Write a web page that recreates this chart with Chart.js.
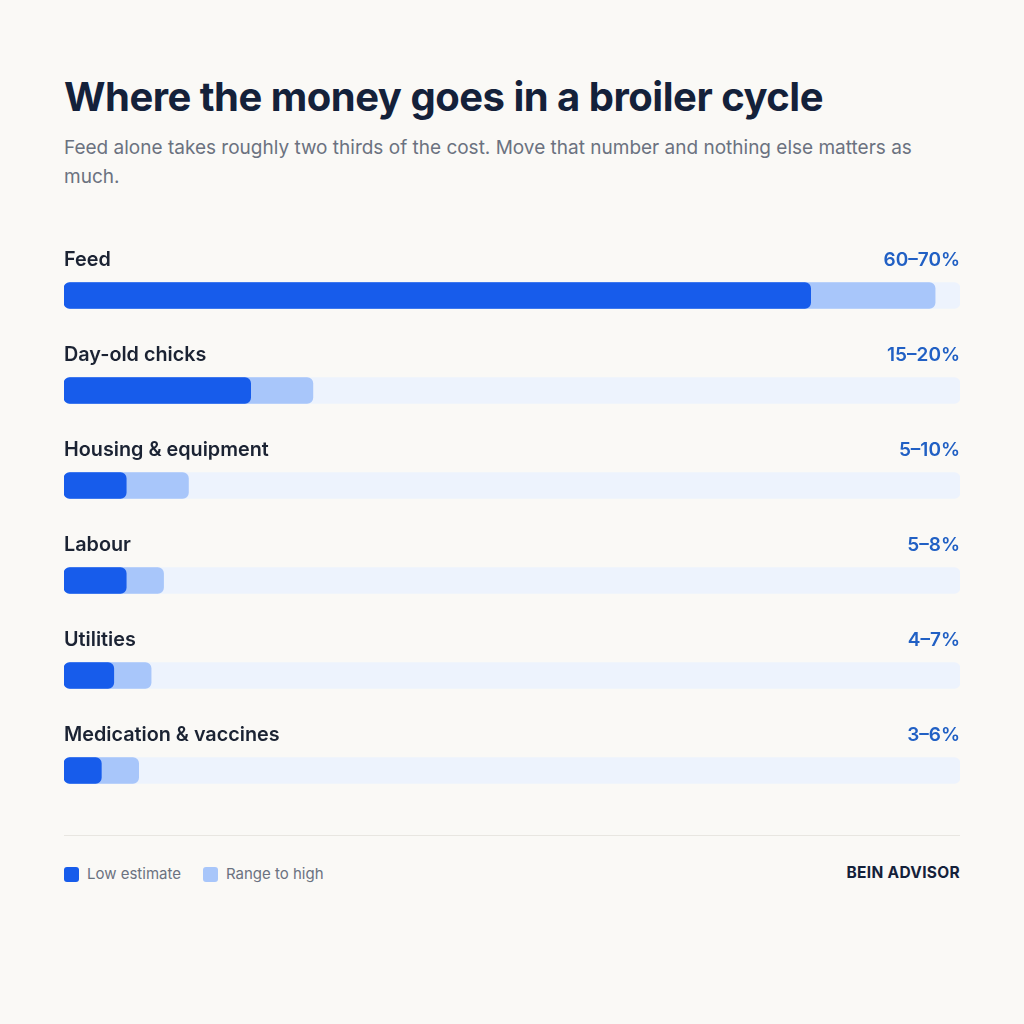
<!DOCTYPE html>
<html>
<head>
<meta charset="utf-8">
<script src="https://cdn.jsdelivr.net/npm/chart.js@4"></script>
<style>
  html, body { margin: 0; padding: 0; background: #faf9f6; }
  body { width: 1024px; height: 1024px; position: relative; font-family: Inter, "Noto Sans", sans-serif; overflow: hidden; }
  h1 { position: absolute; left: 64px; top: 72px; margin: 0; font-size: 40px; font-weight: 700; letter-spacing: -0.5px; color: #14213a; line-height: 50px; }
  .sub { position: absolute; left: 64px; top: 133px; width: 880px; margin: 0; font-size: 19px; line-height: 29px; color: #6b7280; }
  #wrap { position: absolute; left: 64px; top: 248px; width: 896px; height: 570px; }
  .rule { position: absolute; left: 64px; top: 835px; width: 896px; height: 1px; background: #e8e6e1; }
  .legend { position: absolute; left: 64px; top: 864px; font-size: 15px; color: #6b7280; display: flex; align-items: center; }
  .legend span.sw { display: inline-block; width: 15px; height: 15px; border-radius: 3px; margin-right: 8px; }
  .legend .item { display: flex; align-items: center; margin-right: 22px; line-height: 20px; }
  .brand { position: absolute; right: 64px; top: 863px; font-size: 15.5px; font-weight: 700; color: #14213a; line-height: 20px; letter-spacing: 0.3px; }
</style>
</head>
<body>
<h1>Where the money goes in a broiler cycle</h1>
<p class="sub">Feed alone takes roughly two thirds of the cost. Move that number and nothing else matters as much.</p>
<div id="wrap"><canvas id="costChart"></canvas></div>
<div class="rule"></div>
<div class="legend">
  <div class="item"><span class="sw" style="background:#175ceb"></span>Low estimate</div>
  <div class="item"><span class="sw" style="background:#a8c6fa"></span>Range to high</div>
</div>
<div class="brand">BEIN ADVISOR</div>

<script>
// --- data ---
const categories = ['Feed', 'Day-old chicks', 'Housing & equipment', 'Labour', 'Utilities', 'Medication & vaccines'];
const lowValues = [60, 15, 5, 5, 4, 3];
const highValues = [70, 20, 10, 8, 7, 6];
const scaleMax = 72;
const trackValues = categories.map(() => scaleMax);

// category name on the left, range on the right, above each bar
const rowLabels = {
    id: 'rowLabels',
    afterDatasetsDraw(chart) {
        const { ctx, chartArea, scales } = chart;
        ctx.save();
        ctx.textBaseline = 'middle';
        categories.forEach((cat, i) => {
            const y = scales.y.getPixelForValue(i) - 35;
            ctx.font = '600 19.8px Inter, "Noto Sans", sans-serif';
            ctx.fillStyle = '#1b2333';
            ctx.textAlign = 'left';
            ctx.fillText(cat, chartArea.left, y);
            ctx.font = '600 19px Inter, "Noto Sans", sans-serif';
            ctx.fillStyle = '#2160c4';
            ctx.textAlign = 'right';
            ctx.fillText(lowValues[i] + '\u2013' + highValues[i] + '%', chartArea.right, y);
        });
        ctx.restore();
    }
};

const barCommon = { barThickness: 26, borderRadius: 6, borderSkipped: false, grouped: false };

new Chart(document.getElementById('costChart').getContext('2d'), {
    type: 'bar',
    data: {
        labels: categories,
        datasets: [
            { label: 'Low estimate', data: lowValues, backgroundColor: '#175ceb', ...barCommon },
            { label: 'Range to high', data: highValues, backgroundColor: '#a8c6fa', ...barCommon },
            { label: 'Track', data: trackValues, backgroundColor: '#edf3fd', ...barCommon }
        ]
    },
    options: {
        indexAxis: 'y',
        responsive: true,
        maintainAspectRatio: false,
        animation: false,
        layout: { padding: 0 },
        plugins: { legend: { display: false }, tooltip: { enabled: false } },
        scales: {
            x: { display: false, min: 0, max: scaleMax },
            y: { display: false }
        }
    },
    plugins: [rowLabels]
});
</script>
</body>
</html>
